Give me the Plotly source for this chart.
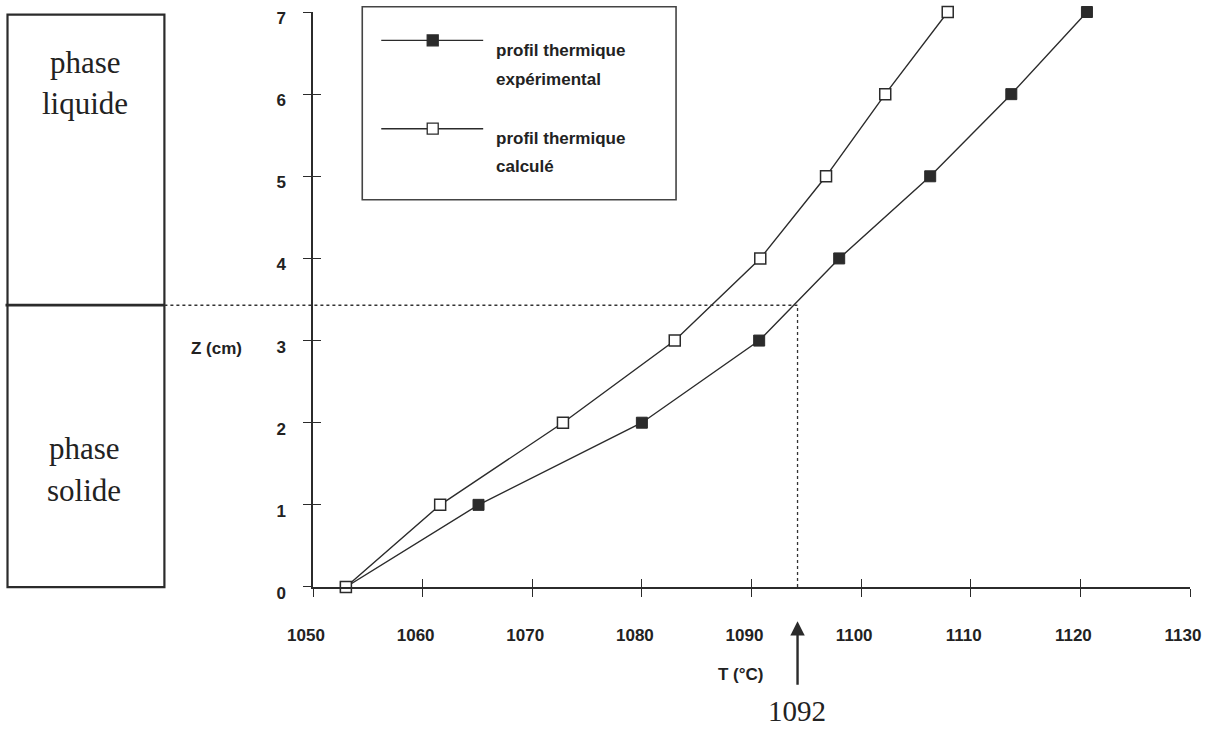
import plotly.graph_objects as go

# ---- data ----
Z_cm = [0, 1, 2, 3, 4, 5, 6, 7]
T_experimental = [1053.0, 1065.1, 1080.0, 1090.7, 1098.0, 1106.3, 1113.7, 1120.6]
T_calcule = [1053.0, 1061.6, 1072.8, 1083.0, 1090.8, 1096.8, 1102.2, 1107.9]
x_ticks = [1050, 1060, 1070, 1080, 1090, 1100, 1110, 1120, 1130]
y_ticks = [0, 1, 2, 3, 4, 5, 6, 7]
interface_Z = 3.43
interface_T = 1094.2
interface_label = "1092"
names = ["profil thermique", "expérimental", "calculé"]

# ---- layout geometry (pixels) ----
W, H = 1213, 729
L, R, T, B = 312.7, 22.7, 12.3, 141.7
PW, PH = W - L - R, H - T - B
INK = "#2b2b2b"
SANS = "Liberation Sans, Arial, sans-serif"
SERIF = "Liberation Serif, Times New Roman, serif"
EPS = 1e-4


def px(x):
    return (x - L) / PW


def py(y):
    return (H - B - y) / PH


fig = go.Figure()
fig.add_trace(go.Scatter(
    x=T_experimental, y=Z_cm, mode="lines+markers", name="exp",
    line=dict(color=INK, width=1.4),
    marker=dict(symbol="square", size=11, color=INK, line=dict(color=INK, width=1)),
    cliponaxis=False, showlegend=False))
fig.add_trace(go.Scatter(
    x=T_calcule, y=Z_cm, mode="lines+markers", name="calc",
    line=dict(color=INK, width=1.4),
    marker=dict(symbol="square", size=11, color="white", line=dict(color=INK, width=1.5)),
    cliponaxis=False, showlegend=False))
fig.add_trace(go.Scatter(x=[], y=[], xaxis="x2", yaxis="y2", showlegend=False))

tickfont = dict(family=SANS, size=17, color="#222", weight="bold")
xr = [x_ticks[0] - EPS, x_ticks[-1] + EPS]
yr = [y_ticks[0] - EPS, y_ticks[-1] + EPS]
fig.update_layout(
    width=W, height=H,
    margin=dict(l=L, r=R, t=T, b=B, pad=0, autoexpand=False),
    paper_bgcolor="white", plot_bgcolor="white",
    showlegend=False,
    xaxis=dict(range=xr, tickvals=x_ticks, showgrid=False, zeroline=False, automargin=False,
               showline=True, linecolor=INK, linewidth=1.5, ticks="outside", ticklen=8,
               tickwidth=1.4, tickcolor=INK, tickfont=tickfont, ticklabelstandoff=24,
               ticklabelshift=-7),
    yaxis=dict(range=yr, tickvals=y_ticks, showgrid=False, zeroline=False, automargin=False,
               showline=True, linecolor=INK, linewidth=1.5, ticks="outside", ticklen=8,
               tickwidth=1.4, tickcolor=INK, tickfont=tickfont, ticklabelstandoff=14,
               ticklabelshift=6, ticklabeloverflow="allow"),
    xaxis2=dict(range=xr, tickvals=x_ticks, overlaying="x", anchor="y", automargin=False,
                showgrid=False, zeroline=False, showline=False, ticks="inside", ticklen=8,
                tickwidth=1.4, tickcolor=INK, showticklabels=False),
    yaxis2=dict(range=yr, tickvals=y_ticks, overlaying="y", anchor="x", automargin=False,
                showgrid=False, zeroline=False, showline=False, ticks="inside", ticklen=8,
                tickwidth=1.4, tickcolor=INK, showticklabels=False),
)

shapes = []
# left column boxes
shapes.append(dict(type="rect", xref="paper", yref="paper", x0=px(7), x1=px(164),
                   y0=py(15), y1=py(587.5), line=dict(color=INK, width=2.2)))
shapes.append(dict(type="line", xref="paper", yref="paper", x0=px(5), x1=px(164),
                   y0=py(305.5), y1=py(305.5), line=dict(color=INK, width=2.8)))
# dotted interface lines
shapes.append(dict(type="line", xref="paper", yref="y", x0=px(164),
                   x1=(interface_T - xr[0]) / (xr[1] - xr[0]), y0=interface_Z, y1=interface_Z,
                   line=dict(color="#333", width=1.3, dash="dot")))
shapes.append(dict(type="line", xref="x", yref="y", x0=interface_T, x1=interface_T,
                   y0=0, y1=interface_Z, line=dict(color="#333", width=1.3, dash="dot")))
# legend box
shapes.append(dict(type="rect", xref="paper", yref="paper", x0=px(362), x1=px(676),
                   y0=py(7), y1=py(200), line=dict(color="#444", width=1.6),
                   fillcolor="white", layer="below"))
for yy, fill in [(40.7, INK), (129, "white")]:
    shapes.append(dict(type="line", xref="paper", yref="paper", x0=px(381), x1=px(483),
                       y0=py(yy), y1=py(yy), line=dict(color=INK, width=1.4)))
    shapes.append(dict(type="rect", xref="paper", yref="paper", x0=px(427), x1=px(438),
                       y0=py(yy - 5.5), y1=py(yy + 5.5), fillcolor=fill,
                       line=dict(color=INK, width=1.3)))
fig.update_layout(shapes=shapes)

ann = []


def text(x, y, s, font, xanchor="center"):
    ann.append(dict(xref="paper", yref="paper", x=px(x), y=py(y), text=s, showarrow=False,
                    font=font, xanchor=xanchor, yanchor="middle"))


serif = dict(family=SERIF, size=31, color="#222")
bold = dict(family=SANS, size=17, color="#222", weight="bold")
text(85, 63, "phase", serif)
text(85, 104, "liquide", serif)
text(84, 449, "phase", serif)
text(84, 491, "solide", serif)
text(216, 349, "Z (cm)", bold)
text(741, 675, "T (°C)", bold)
text(494, 51, names[0], bold, "left")
text(494, 80, names[1], bold, "left")
text(494, 139, names[0], bold, "left")
text(494, 167, names[2], bold, "left")
text(797, 711, interface_label, dict(family=SERIF, size=29, color="#222"))
# arrow toward the interface temperature
ann.append(dict(xref="x", yref="paper", x=interface_T, y=py(621.5), text="",
                showarrow=True, axref="pixel", ayref="pixel", ax=0, ay=65,
                arrowhead=2, arrowsize=1.2, arrowwidth=2.4, arrowcolor=INK))
fig.update_layout(annotations=ann)

fig.write_html("out.html", config={"displayModeBar": False},
               post_script="document.body.style.margin='0';document.body.style.overflow='hidden';")
